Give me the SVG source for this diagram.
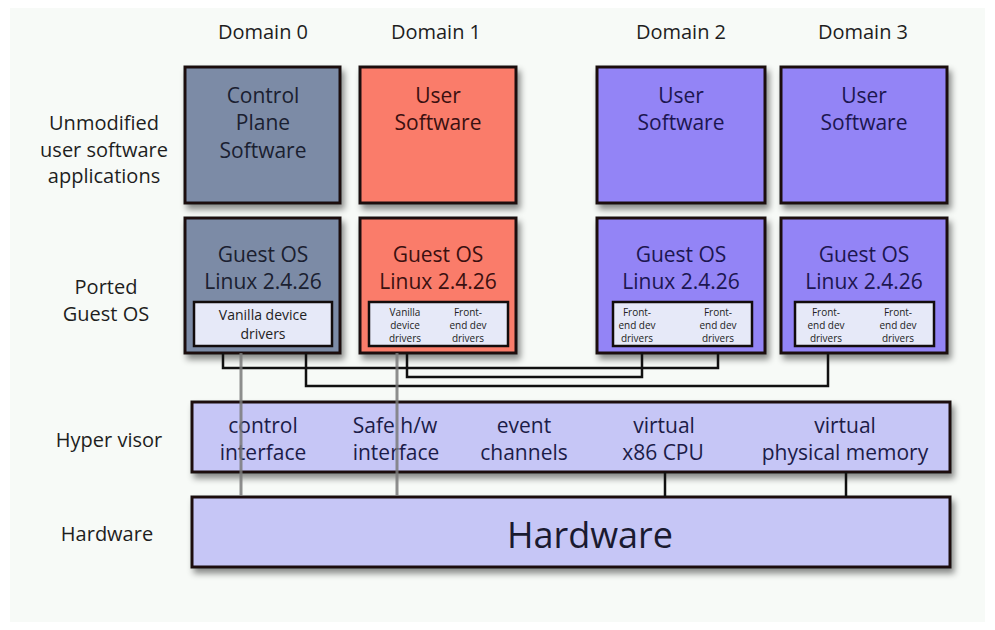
<svg xmlns="http://www.w3.org/2000/svg" width="995" height="630" viewBox="0 0 995 630">
<defs>
<filter id="sh" x="-10%" y="-10%" width="125%" height="130%">
<feDropShadow dx="3" dy="5" stdDeviation="3" flood-color="#000" flood-opacity="0.45"/>
</filter>
<style>
text{font-family:"Open Sans","Liberation Sans",sans-serif;text-anchor:middle}
.lbl{font-size:20px;fill:#1e1e1e}
.box{stroke:#1a1010;stroke-width:3;filter:url(#sh)}
.d0{fill:#7b8ba6}
.d1{fill:#fa7b6b}
.d2{fill:#9384f6}
.inner{fill:#e6e9f8;stroke:#120c0c;stroke-width:2.5}
.bt{font-size:21px}
.t0{fill:#1a2030}
.t1{fill:#3a1010}
.t2{fill:#1c1650}
.sm{font-size:10px;fill:#222}
.md{font-size:14px;fill:#222}
.hv{fill:#c6c6f6}
.ht{font-size:21px;fill:#1c1c48}
.conn{fill:none;stroke:#111;stroke-width:2.5}
.gray{fill:none;stroke:#7a7a7a;stroke-width:3;stroke-opacity:0.85}
</style>
</defs>
<rect x="0" y="0" width="995" height="630" fill="#ffffff"/>
<rect x="10" y="8" width="975" height="614" fill="#f7faf7"/>

<g id="labels">
<text class="lbl" x="263" y="39">Domain 0</text>
<text class="lbl" x="436" y="39">Domain 1</text>
<text class="lbl" x="681" y="39">Domain 2</text>
<text class="lbl" x="863" y="39">Domain 3</text>
<text class="lbl" x="104" y="130">Unmodified</text>
<text class="lbl" x="104" y="157">user software</text>
<text class="lbl" x="104" y="183">applications</text>
<text class="lbl" x="106" y="294">Ported</text>
<text class="lbl" x="106" y="321">Guest OS</text>
<text class="lbl" x="109" y="447">Hyper visor</text>
<text class="lbl" x="107" y="541">Hardware</text>
</g>

<g id="d0-app">
<rect class="box d0" x="185" y="67" width="155" height="136"/>
<text class="bt t0" x="263" y="103">Control</text>
<text class="bt t0" x="263" y="130">Plane</text>
<text class="bt t0" x="263" y="158">Software</text>
</g>
<g id="d1-app">
<rect class="box d1" x="360" y="67" width="156" height="136"/>
<text class="bt t1" x="438" y="103">User</text>
<text class="bt t1" x="438" y="130">Software</text>
</g>
<g id="d2-app">
<rect class="box d2" x="597" y="67" width="168" height="136"/>
<text class="bt t2" x="681" y="103">User</text>
<text class="bt t2" x="681" y="130">Software</text>
</g>
<g id="d3-app">
<rect class="box d2" x="781" y="67" width="166" height="136"/>
<text class="bt t2" x="864" y="103">User</text>
<text class="bt t2" x="864" y="130">Software</text>
</g>

<g id="d0-os">
<rect class="box d0" x="185" y="218" width="155" height="135"/>
<text class="bt t0" x="263" y="262">Guest OS</text>
<text class="bt t0" x="263" y="289">Linux 2.4.26</text>
<rect class="inner" x="194" y="302" width="138" height="44"/>
<text class="md" x="263" y="320">Vanilla device</text>
<text class="md" x="263" y="339">drivers</text>
</g>
<g id="d1-os">
<rect class="box d1" x="360" y="218" width="156" height="135"/>
<text class="bt t1" x="438" y="262">Guest OS</text>
<text class="bt t1" x="438" y="289">Linux 2.4.26</text>
<rect class="inner" x="369" y="302" width="139" height="44"/>
<text class="sm" x="405" y="316">Vanilla</text>
<text class="sm" x="405" y="329">device</text>
<text class="sm" x="405" y="342">drivers</text>
<text class="sm" x="468" y="316">Front-</text>
<text class="sm" x="468" y="329">end dev</text>
<text class="sm" x="468" y="342">drivers</text>
</g>
<g id="d2-os">
<rect class="box d2" x="597" y="218" width="168" height="135"/>
<text class="bt t2" x="681" y="262">Guest OS</text>
<text class="bt t2" x="681" y="289">Linux 2.4.26</text>
<rect class="inner" x="613" y="302" width="139" height="44"/>
<text class="sm" x="637" y="316">Front-</text>
<text class="sm" x="637" y="329">end dev</text>
<text class="sm" x="637" y="342">drivers</text>
<text class="sm" x="718" y="316">Front-</text>
<text class="sm" x="718" y="329">end dev</text>
<text class="sm" x="718" y="342">drivers</text>
</g>
<g id="d3-os">
<rect class="box d2" x="781" y="218" width="166" height="135"/>
<text class="bt t2" x="864" y="262">Guest OS</text>
<text class="bt t2" x="864" y="289">Linux 2.4.26</text>
<rect class="inner" x="795" y="302" width="139" height="44"/>
<text class="sm" x="826" y="316">Front-</text>
<text class="sm" x="826" y="329">end dev</text>
<text class="sm" x="826" y="342">drivers</text>
<text class="sm" x="898" y="316">Front-</text>
<text class="sm" x="898" y="329">end dev</text>
<text class="sm" x="898" y="342">drivers</text>
</g>

<g id="hypervisor">
<rect class="box hv" x="192" y="402" width="758" height="70"/>
<text class="ht" x="263" y="433">control</text>
<text class="ht" x="263" y="460">interface</text>
<text class="ht" x="395" y="433">Safe h/w</text>
<text class="ht" x="396" y="460">interface</text>
<text class="ht" x="524" y="433">event</text>
<text class="ht" x="524" y="460">channels</text>
<text class="ht" x="664" y="433">virtual</text>
<text class="ht" x="663" y="460">x86 CPU</text>
<text class="ht" x="845" y="433">virtual</text>
<text class="ht" x="845" y="460">physical memory</text>
</g>

<g id="hardware">
<rect class="box hv" x="192" y="497" width="758" height="70"/>
<text x="590" y="548" style="font-size:36px;fill:#1a1a30">Hardware</text>
</g>

<g id="connectors">
<path class="conn" d="M223,353 V368 H718 V353"/>
<path class="conn" d="M407,353 V377 H642 V353"/>
<path class="conn" d="M306,353 V386 H828 V353"/>
<path class="conn" d="M665,472 V497"/>
<path class="conn" d="M846,472 V497"/>
<path class="gray" d="M241,353 V496"/>
<path class="gray" d="M397,353 V496"/>
</g>
</svg>
